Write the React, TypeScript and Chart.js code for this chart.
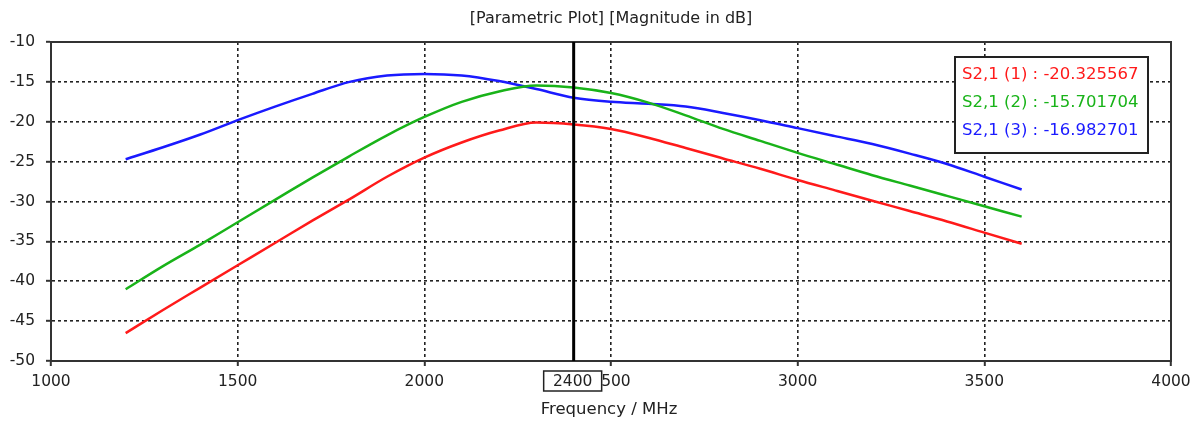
import React, { useEffect, useRef } from "react";
import { Chart, registerables } from "chart.js";

Chart.register(...registerables);

// ---- data ----
const frequencies = [
  1200, 1300, 1400, 1500, 1600, 1700, 1800, 1900, 2000, 2100, 2200, 2300, 2400,
  2500, 2600, 2700, 2800, 2900, 3000, 3100, 3200, 3300, 3400, 3500, 3600,
];
const s21Run1 = [
  -46.5, -43.6, -40.8, -38.0, -35.2, -32.4, -29.7, -26.9, -24.5, -22.6, -21.1,
  -20.1, -20.33, -20.9, -22.0, -23.3, -24.6, -25.9, -27.3, -28.6, -29.9, -31.2,
  -32.5, -33.9, -35.3,
];
const s21Run2 = [
  -41.0, -38.1, -35.4, -32.6, -29.8, -27.0, -24.3, -21.7, -19.4, -17.5, -16.2,
  -15.45, -15.7, -16.4, -17.6, -19.2, -20.9, -22.4, -23.9, -25.3, -26.7, -28.0,
  -29.3, -30.6, -31.9,
];
const s21Run3 = [
  -24.7, -23.2, -21.6, -19.8, -18.1, -16.5, -15.0, -14.2, -14.0, -14.2, -14.9,
  -15.9, -16.98, -17.5, -17.75, -18.1, -18.9, -19.8, -20.8, -21.8, -22.8, -24.0,
  -25.3, -26.9, -28.5,
];
const seriesLabels = ["S2,1 (1)", "S2,1 (2)", "S2,1 (3)"];
const markerValues = ["-20.325567", "-15.701704", "-16.982701"];
const seriesColors = ["#ff1a1a", "#19b319", "#1a1aff"];
const markerFrequency = 2400;
const xRange = [1000, 4000];
const yRange = [-50, -10];
const xStep = 500;
const yStep = 5;
const chartTitle = "[Parametric Plot] [Magnitude in dB]";
const xAxisTitle = "Frequency / MHz";

const FONT = "'DejaVu Sans', sans-serif";
const TEXT = "#222";

const overlayPlugin = {
  id: "overlay",
  afterDraw(chart: any) {
    const { ctx, chartArea, scales } = chart;
    const { left, right, top, bottom } = chartArea;
    ctx.save();

    // frame
    ctx.strokeStyle = "#333";
    ctx.lineWidth = 2;
    ctx.setLineDash([]);
    ctx.beginPath();
    ctx.moveTo(left, bottom);
    ctx.lineTo(left, top);
    ctx.lineTo(right, top);
    ctx.lineTo(right, bottom);
    ctx.lineTo(left, bottom);
    ctx.stroke();

    // marker line
    const mx = scales.x.getPixelForValue(markerFrequency);
    ctx.strokeStyle = "#000";
    ctx.lineWidth = 3;
    ctx.beginPath();
    ctx.moveTo(mx, top);
    ctx.lineTo(mx, bottom);
    ctx.stroke();

    // marker label box
    const bw = 58, bh = 20;
    const bx = mx - 30, by = bottom + 10;
    ctx.fillStyle = "#fff";
    ctx.fillRect(bx, by, bw, bh);
    ctx.strokeStyle = "#222";
    ctx.lineWidth = 1.5;
    ctx.strokeRect(bx, by, bw, bh);
    ctx.fillStyle = TEXT;
    ctx.font = `15.5px ${FONT}`;
    ctx.textAlign = "center";
    ctx.textBaseline = "middle";
    ctx.fillText(String(markerFrequency), bx + bw / 2, by + bh / 2 + 1);

    // legend box
    const lx = 955, ly = 57, lw = 193, lh = 96;
    ctx.fillStyle = "#fff";
    ctx.fillRect(lx, ly, lw, lh);
    ctx.strokeStyle = "#222";
    ctx.lineWidth = 2;
    ctx.strokeRect(lx, ly, lw, lh);
    ctx.font = `16.5px ${FONT}`;
    ctx.textAlign = "left";
    ctx.textBaseline = "middle";
    seriesLabels.forEach((lab, i) => {
      ctx.fillStyle = seriesColors[i];
      ctx.fillText(`${lab} : ${markerValues[i]}`, lx + 7, ly + 18 + i * 28);
    });

    // titles
    ctx.fillStyle = TEXT;
    ctx.textAlign = "center";
    ctx.font = `16px ${FONT}`;
    ctx.fillText(chartTitle, (left + right) / 2, 19);
    ctx.font = `16.5px ${FONT}`;
    ctx.fillText(xAxisTitle, (left + right) / 2 - 2, 410);

    ctx.restore();
  },
};

export default function App() {
  const ref = useRef<HTMLCanvasElement | null>(null);

  useEffect(() => {
    if (!ref.current) return;
    const mk = (vals: number[]) => frequencies.map((f, i) => ({ x: f, y: vals[i] }));
    const gridOpts = {
      color: "#222",
      lineWidth: 1.6,
      tickLength: 5,
      tickColor: "#333",
      tickWidth: 2,
      tickBorderDash: [],
    };
    const chart = new Chart(ref.current, {
      type: "line",
      data: {
        datasets: [s21Run1, s21Run2, s21Run3].map((vals, i) => ({
          label: seriesLabels[i],
          data: mk(vals),
          borderColor: seriesColors[i],
          backgroundColor: seriesColors[i],
          borderWidth: 2.5,
          pointRadius: 0,
          cubicInterpolationMode: "monotone" as const,
          fill: false,
        })),
      },
      options: {
        animation: false,
        responsive: false,
        events: [],
        layout: { padding: { top: 42, right: 21, left: 0, bottom: 0 } },
        plugins: {
          legend: { display: false },
          title: { display: false },
          tooltip: { enabled: false },
        },
        scales: {
          x: {
            type: "linear",
            min: xRange[0],
            max: xRange[1],
            afterFit: (s: any) => {
              s.height = 60;
              s.paddingLeft = 0;
              s.paddingRight = 0;
            },
            ticks: {
              stepSize: xStep,
              color: TEXT,
              font: { family: FONT, size: 15.5 },
              padding: 7,
              maxRotation: 0,
              callback: (v: any) => String(v),
            },
            grid: gridOpts,
            border: { display: true, color: "#333", width: 2, dash: [3, 3] },
          },
          y: {
            type: "linear",
            min: yRange[0],
            max: yRange[1],
            afterFit: (s: any) => {
              s.width = 51;
              s.paddingTop = 0;
              s.paddingBottom = 0;
            },
            ticks: {
              stepSize: yStep,
              color: TEXT,
              font: { family: FONT, size: 15.5 },
              padding: 11,
              callback: (v: any) => String(v),
            },
            grid: gridOpts,
            border: { display: true, color: "#333", width: 2, dash: [3, 3] },
          },
        },
      },
      plugins: [overlayPlugin],
    });
    return () => chart.destroy();
  }, []);

  return (
    <div style={{ position: "fixed", left: 0, top: 0, width: 1192, height: 421, background: "#fff" }}>
      <canvas ref={ref} width={1192} height={421} style={{ display: "block" }} />
    </div>
  );
}
